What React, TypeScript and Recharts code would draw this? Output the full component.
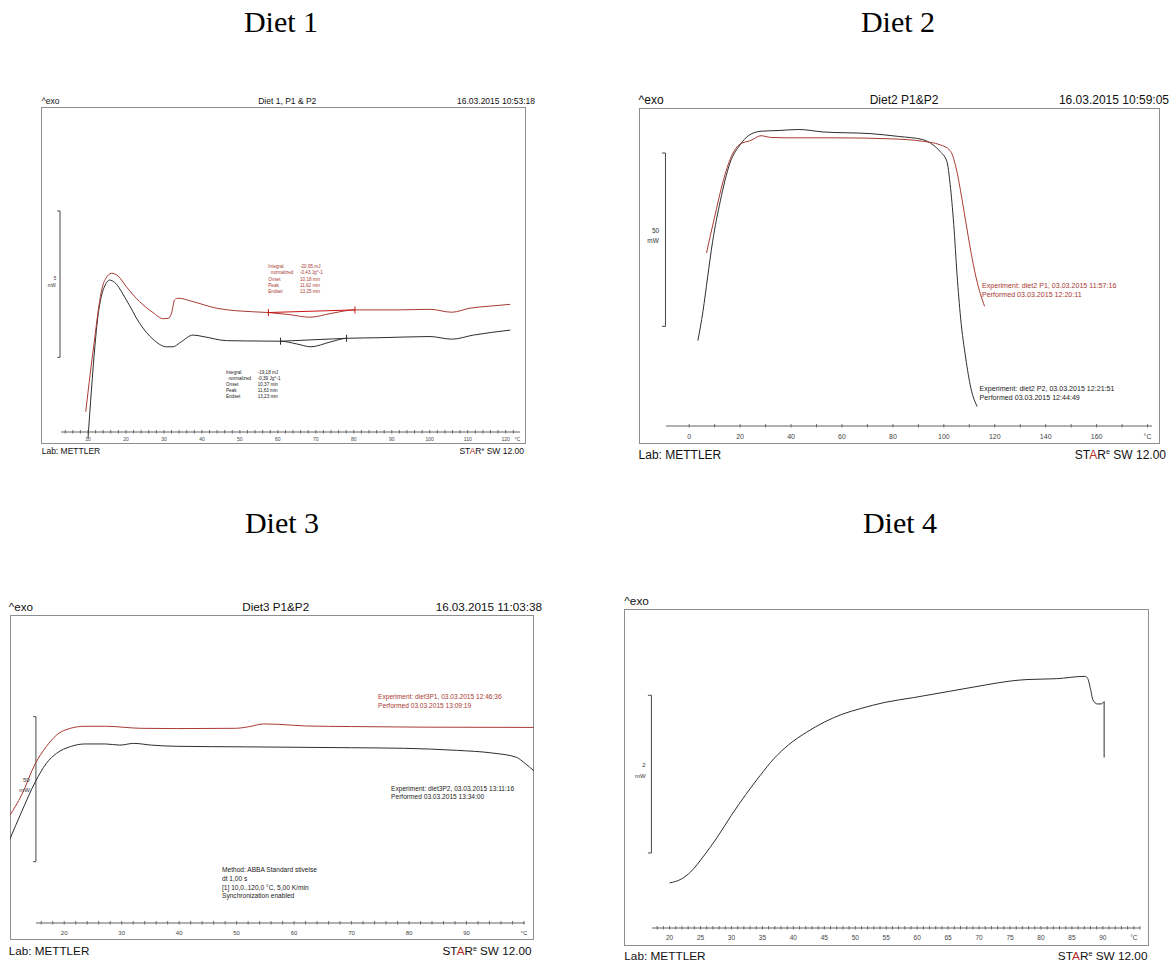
import React from 'react';
import { LineChart, Line, XAxis, YAxis, ReferenceLine } from 'recharts';

const SANS = '"Liberation Sans", Arial, Helvetica, sans-serif';
const SERIF = '"Liberation Serif", "Times New Roman", serif';
const RED = '#a83a34';
const BRIGHT_RED = '#d01010';
const DARK = '#2e2e2e';
const FRAME = '#8e8e8e';
const AXIS = '#505050';

// ---------------- Diet 1 (mW vs °C) ----------------
const diet1P1Temp = [9.4, 10.6, 11.6, 12.6, 13.5, 14.7, 16.2, 17.9, 20.1, 23.6, 27.1, 29.8, 31.1, 32.0, 32.8, 33.7, 37.7, 43.8, 49.1, 57.5, 63.0, 68.4, 74.0, 80.3, 91.3, 100.1, 105.8, 110.6, 115.9, 121.2];
const diet1P1Heat = [1.10, 2.42, 3.44, 4.47, 5.20, 5.66, 5.83, 5.74, 5.37, 4.86, 4.49, 4.28, 4.29, 4.47, 4.92, 4.98, 4.86, 4.64, 4.55, 4.49, 4.42, 4.33, 4.46, 4.58, 4.58, 4.60, 4.50, 4.64, 4.71, 4.77];
const diet1P2Temp = [10.0, 10.9, 11.8, 12.6, 13.5, 14.7, 15.7, 17.0, 20.1, 23.6, 27.1, 30.7, 32.4, 34.2, 37.7, 40.3, 46.5, 51.7, 60.7, 64.9, 68.7, 73.7, 78.1, 86.9, 100.1, 105.8, 111.5, 121.2];
const diet1P2Heat = [0.19, 1.84, 3.32, 4.35, 5.03, 5.47, 5.60, 5.52, 4.92, 4.12, 3.58, 3.32, 3.32, 3.46, 3.72, 3.67, 3.53, 3.52, 3.51, 3.42, 3.32, 3.48, 3.61, 3.63, 3.67, 3.58, 3.72, 3.89];
const diet1P1BaseTemp = [57.5, 80.3];
const diet1P1BaseHeat = [4.49, 4.58];
const diet1P2BaseTemp = [60.7, 78.1];
const diet1P2BaseHeat = [3.51, 3.61];
const diet1MajorTicks = [10, 20, 30, 40, 50, 60, 70, 80, 90, 100, 110, 120];

// ---------------- Diet 2 ----------------
const diet2P1Temp = [6.8, 9.9, 13.3, 16.6, 20.0, 24.1, 28.2, 32.2, 37.6, 57.9, 79.5, 91.7, 98.5, 102.5, 104.5, 106.6, 108.6, 110.6, 112.7, 116.0];
const diet2P1Heat = [55.1, 65.2, 75.7, 83.0, 86.5, 87.5, 88.9, 88.4, 88.3, 88.3, 88.0, 87.3, 86.3, 84.6, 80.6, 72.9, 64.2, 55.6, 47.9, 39.7];
const diet2P2Temp = [3.4, 5.4, 7.2, 9.2, 12.2, 16.0, 20.0, 23.4, 28.2, 34.9, 43.0, 52.5, 71.4, 82.2, 91.7, 95.7, 98.5, 101.2, 102.5, 103.9, 105.2, 106.6, 108.6, 110.6, 113.1];
const diet2P2Heat = [29.8, 38.2, 47.9, 58.4, 70.0, 81.0, 86.3, 89.0, 90.2, 90.4, 90.7, 90.0, 89.5, 88.7, 87.8, 86.3, 84.4, 81.5, 74.8, 63.3, 48.8, 36.3, 24.8, 16.2, 10.8];
const diet2MajorTicks = [0, 20, 40, 60, 80, 100, 120, 140, 160];

// ---------------- Diet 3 ----------------
const diet3P1Temp = [10.5, 12.5, 14.9, 16.8, 18.6, 21.0, 23.5, 27.1, 33.2, 39.4, 49.7, 52.2, 54.6, 57.0, 61.9, 69.9, 82.1, 101.6];
const diet3P1Heat = [43.1, 50.0, 60.9, 66.7, 70.7, 73.0, 73.7, 73.7, 73.0, 72.9, 73.0, 73.6, 74.5, 74.4, 73.8, 73.6, 73.4, 73.3];
const diet3P2Temp = [10.4, 12.5, 14.9, 16.8, 18.6, 21.0, 23.5, 27.1, 29.6, 32.0, 35.1, 39.4, 51.6, 69.9, 79.1, 88.2, 94.3, 98.6, 100.1, 101.6];
const diet3P2Heat = [34.5, 44.2, 54.6, 60.9, 64.4, 66.7, 67.6, 67.6, 67.2, 67.8, 67.2, 66.8, 66.6, 66.3, 66.1, 65.4, 64.5, 63.0, 60.9, 58.4];
const diet3MajorTicks = [20, 30, 40, 50, 60, 70, 80, 90];

// ---------------- Diet 4 ----------------
const diet4Temp = [20.0, 21.9, 23.4, 25.4, 27.7, 30.0, 32.3, 34.6, 36.9, 39.2, 42.1, 45.0, 47.9, 50.8, 54.8, 59.4, 65.2, 71.0, 75.0, 77.9, 82.5, 87.1, 87.5, 88.0, 88.4, 89.1, 89.7, 90.2];
const diet4Heat = [0.80, 0.85, 0.94, 1.13, 1.38, 1.66, 1.92, 2.16, 2.38, 2.55, 2.71, 2.84, 2.94, 3.01, 3.09, 3.15, 3.23, 3.31, 3.36, 3.38, 3.39, 3.42, 3.40, 3.26, 3.12, 3.07, 3.07, 3.10];
const diet4DropTemp = [90.2, 90.2];
const diet4DropHeat = [3.10, 2.39];
const diet4MajorTicks = [20, 25, 30, 35, 40, 45, 50, 55, 60, 65, 70, 75, 80, 85, 90];

const zip = (ts: number[], vs: number[]) => ts.map((t, i) => ({ t, v: vs[i] }));
const range = (a: number, b: number, s: number) => {
  const r: number[] = [];
  for (let v = a; v <= b + 1e-9; v += s) r.push(Math.round(v * 100) / 100);
  return r;
};

type Series = { data: { t: number; v: number }[]; color: string; type?: 'monotone' | 'linear' };
type AxisCfg = {
  left: number; width: number; y: number; domain: [number, number];
  ticks: number[]; major: number[]; unitAt: number; unitLine: boolean;
  fontSize: number; labelDy: number;
};
type PanelCfg = {
  frame: { left: number; top: number; width: number; height: number };
  xDomain: [number, number];
  yMax: number;
  series: Series[];
  bar: { t: number; lo: number; hi: number; tick: number };
  axis: AxisCfg;
  marks?: { t: number; v: number; h: number; color: string }[];
};

const panels: PanelCfg[] = [
  {
    frame: { left: 41, top: 107, width: 485, height: 337 },
    xDomain: [-2.38, 125.35],
    yMax: 11.51,
    series: [
      { data: zip(diet1P2Temp, diet1P2Heat), color: DARK },
      { data: zip(diet1P1Temp, diet1P1Heat), color: RED },
      { data: zip(diet1P1BaseTemp, diet1P1BaseHeat), color: BRIGHT_RED, type: 'linear' },
      { data: zip(diet1P2BaseTemp, diet1P2BaseHeat), color: DARK, type: 'linear' },
    ],
    bar: { t: 2.63, lo: 2.96, hi: 7.96, tick: 0.71 },
    axis: {
      left: 61, width: 459, y: 432, domain: [2.89, 123.77],
      ticks: [...range(4, 122, 2), 123.1], major: diet1MajorTicks, unitAt: 123.1, unitLine: false,
      fontSize: 5, labelDy: 8.8,
    },
    marks: [
      { t: 57.5, v: 4.49, h: 0.12, color: BRIGHT_RED },
      { t: 80.3, v: 4.58, h: 0.12, color: BRIGHT_RED },
      { t: 60.7, v: 3.51, h: 0.12, color: DARK },
      { t: 78.1, v: 3.61, h: 0.12, color: DARK },
    ],
  },
  {
    frame: { left: 639, top: 108, width: 521, height: 336 },
    xDomain: [-19.71, 184.9],
    yMax: 96.9,
    series: [
      { data: zip(diet2P2Temp, diet2P2Heat), color: DARK },
      { data: zip(diet2P1Temp, diet2P1Heat), color: RED },
    ],
    bar: { t: -9.31, lo: 33.92, hi: 83.92, tick: 1.37 },
    axis: {
      left: 666, width: 486, y: 426, domain: [-9.11, 181.75],
      ticks: range(0, 180, 10), major: diet2MajorTicks, unitAt: 180, unitLine: true,
      fontSize: 7, labelDy: 12.8,
    },
  },
  {
    frame: { left: 9.5, top: 615, width: 524, height: 325 },
    xDomain: [10.48, 101.66],
    yMax: 112.07,
    series: [
      { data: zip(diet3P2Temp, diet3P2Heat), color: DARK },
      { data: zip(diet3P1Temp, diet3P1Heat), color: RED },
    ],
    bar: { t: 14.99, lo: 27.0, hi: 77.0, tick: 0.49 },
    axis: {
      left: 36, width: 489, y: 923, domain: [15.09, 100.18],
      ticks: range(16, 100, 2), major: diet3MajorTicks, unitAt: 100, unitLine: true,
      fontSize: 6, labelDy: 11.5,
    },
  },
  {
    frame: { left: 624, top: 609, width: 525, height: 337 },
    xDomain: [12.63, 97.45],
    yMax: 4.274,
    series: [
      { data: zip(diet4Temp, diet4Heat), color: DARK },
      { data: zip(diet4DropTemp, diet4DropHeat), color: DARK, type: 'linear' },
    ],
    bar: { t: 17.06, lo: 1.18, hi: 3.18, tick: 0.57 },
    axis: {
      left: 652, width: 488, y: 928, domain: [17.16, 96.0],
      ticks: range(18, 96, 1), major: diet4MajorTicks, unitAt: 95, unitLine: true,
      fontSize: 6.5, labelDy: 12.3,
    },
  },
];

const makeTick = (cfg: AxisCfg) => (props: any) => {
  const { x, y, payload } = props;
  const v = payload.value;
  const isUnit = Math.abs(v - cfg.unitAt) < 1e-6;
  const isMajor = cfg.major.some((m) => Math.abs(m - v) < 1e-6);
  const label = isUnit ? '°C' : isMajor ? String(v) : '';
  const showLine = !(isUnit && !cfg.unitLine);
  return (
    <g>
      {showLine && <line x1={x} x2={x} y1={y - 2} y2={y + 1.5} stroke={AXIS} strokeWidth={0.8} />}
      {label && (
        <text x={x} y={y + cfg.labelDy} textAnchor="middle" fontSize={cfg.fontSize} fill="#444" fontFamily={SANS}>
          {label}
        </text>
      )}
    </g>
  );
};

const AX_ML = 8;
const AX_MR = 12;

function Panel({ cfg }: { cfg: PanelCfg }) {
  const { frame, axis, bar } = cfg;
  return (
    <>
      <div
        style={{
          position: 'absolute', left: frame.left, top: frame.top, width: frame.width, height: frame.height,
          boxSizing: 'border-box', border: `1px solid ${FRAME}`,
        }}
      />
      <div style={{ position: 'absolute', left: frame.left, top: frame.top }}>
        <LineChart width={frame.width} height={frame.height} margin={{ top: 0, right: 0, bottom: 0, left: 0 }}>
          <XAxis type="number" dataKey="t" domain={cfg.xDomain} allowDataOverflow hide />
          <YAxis type="number" dataKey="v" domain={[0, cfg.yMax]} allowDataOverflow hide />
          <ReferenceLine segment={[{ x: bar.t, y: bar.lo }, { x: bar.t, y: bar.hi }]} stroke="#333" strokeWidth={0.9} />
          <ReferenceLine segment={[{ x: bar.t - bar.tick, y: bar.lo }, { x: bar.t, y: bar.lo }]} stroke="#333" strokeWidth={0.9} />
          <ReferenceLine segment={[{ x: bar.t - bar.tick, y: bar.hi }, { x: bar.t, y: bar.hi }]} stroke="#333" strokeWidth={0.9} />
          {(cfg.marks || []).map((m, i) => (
            <ReferenceLine key={'m' + i} segment={[{ x: m.t, y: m.v - m.h }, { x: m.t, y: m.v + m.h }]} stroke={m.color} strokeWidth={1} />
          ))}
          {cfg.series.map((s, i) => (
            <Line
              key={i}
              data={s.data}
              dataKey="v"
              type={s.type || 'monotone'}
              stroke={s.color}
              strokeWidth={1}
              dot={false}
              activeDot={false}
              isAnimationActive={false}
            />
          ))}
        </LineChart>
      </div>
      <div style={{ position: 'absolute', left: axis.left - AX_ML, top: axis.y - 8 }}>
        <LineChart
          width={axis.width + AX_ML + AX_MR}
          height={24}
          margin={{ top: 0, right: AX_MR, bottom: 0, left: AX_ML }}
        >
          <XAxis
            type="number"
            dataKey="t"
            domain={axis.domain}
            allowDataOverflow
            ticks={axis.ticks}
            interval={0}
            height={16}
            tickSize={0}
            tickMargin={0}
            tickLine={false}
            axisLine={{ stroke: AXIS, strokeWidth: 0.9 }}
            tick={makeTick(axis)}
          />
          <YAxis type="number" domain={[0, 1]} hide />
        </LineChart>
      </div>
    </>
  );
}

function Txt({ x, cy, size, anchor = 'start', fill = '#111', family = SANS, children }: any) {
  return (
    <text x={x} y={cy + size * 0.35} fontSize={size} textAnchor={anchor} fill={fill} fontFamily={family}>
      {children}
    </text>
  );
}

function Star({ x, cy, size }: { x: number; cy: number; size: number }) {
  return (
    <text x={x} y={cy + size * 0.35} fontSize={size} textAnchor="end" fill="#111" fontFamily={SANS}>
      <tspan>ST</tspan>
      <tspan fill="#b52b25">A</tspan>
      <tspan>R</tspan>
      <tspan dy={-size * 0.35} fontSize={size * 0.6}>e</tspan>
      <tspan dy={size * 0.35}>{'\u00a0SW 12.00'}</tspan>
    </text>
  );
}

const d1RedLabels = ['Integral', '\u00a0\u00a0normalized', 'Onset', 'Peak', 'Endset'];
const d1RedValues = ['-20,95 mJ', '-0,43 Jg^-1', '10,18 min', '11,62 min', '13,25 min'];
const d1BlkValues = ['-19,18 mJ', '-0,39 Jg^-1', '10,37 min', '11,63 min', '13,23 min'];
const d3Method = ['Method: ABBA Standard stivelse', 'dt 1,00 s', '[1] 10,0..120,0 °C, 5,00 K/min', 'Synchronization enabled'];

export default function App() {
  return (
    <div style={{ position: 'absolute', left: 0, top: 0, width: 1174, height: 963, background: '#fff', overflow: 'hidden' }}>
      {panels.map((p, i) => (
        <Panel key={i} cfg={p} />
      ))}
      <svg width={1174} height={963} style={{ position: 'absolute', left: 0, top: 0, pointerEvents: 'none' }}>
        {/* headings */}
        <text x={281} y={32} fontSize={30} textAnchor="middle" fontFamily={SERIF} fill="#000">Diet 1</text>
        <text x={898} y={32} fontSize={30} textAnchor="middle" fontFamily={SERIF} fill="#000">Diet 2</text>
        <text x={282} y={533} fontSize={30} textAnchor="middle" fontFamily={SERIF} fill="#000">Diet 3</text>
        <text x={900} y={533} fontSize={30} textAnchor="middle" fontFamily={SERIF} fill="#000">Diet 4</text>

        {/* Panel 1 */}
        <Txt x={41.7} cy={101} size={8.5}>^exo</Txt>
        <Txt x={287.3} cy={101} size={8.5} anchor="middle">Diet 1, P1 &amp; P2</Txt>
        <Txt x={535} cy={101} size={8.5} anchor="end">16.03.2015 10:53:18</Txt>
        <Txt x={41.7} cy={451} size={8.5}>Lab: METTLER</Txt>
        <Star x={524} cy={451} size={8.5} />
        <Txt x={55} cy={278.3} size={4.5} anchor="middle" fill="#333">5</Txt>
        <Txt x={51.7} cy={285} size={4.5} anchor="middle" fill="#333">mW</Txt>
        {d1RedLabels.map((l, i) => (
          <Txt key={'rl' + i} x={268.3} cy={266.7 + i * 6.1} size={4.6} fill={RED}>{l}</Txt>
        ))}
        {d1RedValues.map((l, i) => (
          <Txt key={'rv' + i} x={300} cy={266.7 + i * 6.1} size={4.6} fill={RED}>{l}</Txt>
        ))}
        {d1RedLabels.map((l, i) => (
          <Txt key={'bl' + i} x={226} cy={372.3 + i * 6} size={4.6} fill="#222">{l}</Txt>
        ))}
        {d1BlkValues.map((l, i) => (
          <Txt key={'bv' + i} x={257.7} cy={372.3 + i * 6} size={4.6} fill="#222">{l}</Txt>
        ))}

        {/* Panel 2 */}
        <Txt x={638.6} cy={99.3} size={12}>^exo</Txt>
        <Txt x={904} cy={99.3} size={12} anchor="middle">Diet2 P1&amp;P2</Txt>
        <Txt x={1169} cy={99.3} size={12} anchor="end">16.03.2015 10:59:05</Txt>
        <Txt x={638.6} cy={454.3} size={12}>Lab: METTLER</Txt>
        <Star x={1166} cy={454.3} size={12} />
        <Txt x={655.5} cy={231} size={6.5} anchor="middle" fill="#333">50</Txt>
        <Txt x={653} cy={241} size={6.5} anchor="middle" fill="#333">mW</Txt>
        <Txt x={982} cy={286} size={7.1} fill={RED}>Experiment: diet2 P1, 03.03.2015 11:57:16</Txt>
        <Txt x={982} cy={295} size={7.1} fill={RED}>Performed  03.03.2015 12:20:11</Txt>
        <Txt x={979.6} cy={388.3} size={7.1} fill="#222">Experiment: diet2 P2, 03.03.2015 12:21:51</Txt>
        <Txt x={979.6} cy={397.3} size={7.1} fill="#222">Performed  03.03.2015 12:44:49</Txt>

        {/* Panel 3 */}
        <Txt x={8.8} cy={606.7} size={11.7}>^exo</Txt>
        <Txt x={275.7} cy={606.7} size={11.7} anchor="middle">Diet3 P1&amp;P2</Txt>
        <Txt x={542} cy={606.7} size={11.7} anchor="end">16.03.2015 11:03:38</Txt>
        <Txt x={8.8} cy={950.7} size={11.7}>Lab: METTLER</Txt>
        <Star x={531.4} cy={950.7} size={11.7} />
        <Txt x={26.3} cy={780} size={6} anchor="middle" fill="#333">50</Txt>
        <Txt x={24.6} cy={790} size={6} anchor="middle" fill="#333">mW</Txt>
        <Txt x={378.1} cy={696.7} size={6.6} fill={RED}>Experiment: diet3P1, 03.03.2015 12:46:36</Txt>
        <Txt x={378.1} cy={705.3} size={6.6} fill={RED}>Performed  03.03.2015 13:09:19</Txt>
        <Txt x={391.1} cy={788.3} size={6.6} fill="#222">Experiment: diet3P2, 03.03.2015 13:11:16</Txt>
        <Txt x={391.1} cy={797} size={6.6} fill="#222">Performed  03.03.2015 13:34:00</Txt>
        {d3Method.map((l, i) => (
          <Txt key={'m' + i} x={222} cy={870 + i * 8.7} size={6.6} fill="#222">{l}</Txt>
        ))}

        {/* Panel 4 */}
        <Txt x={624.3} cy={600.7} size={11.8}>^exo</Txt>
        <Txt x={624.3} cy={956} size={11.8}>Lab: METTLER</Txt>
        <Star x={1147.5} cy={956} size={11.8} />
        <Txt x={643.9} cy={765} size={6} anchor="middle" fill="#333">2</Txt>
        <Txt x={640.4} cy={775.7} size={6} anchor="middle" fill="#333">mW</Txt>
      </svg>
    </div>
  );
}
